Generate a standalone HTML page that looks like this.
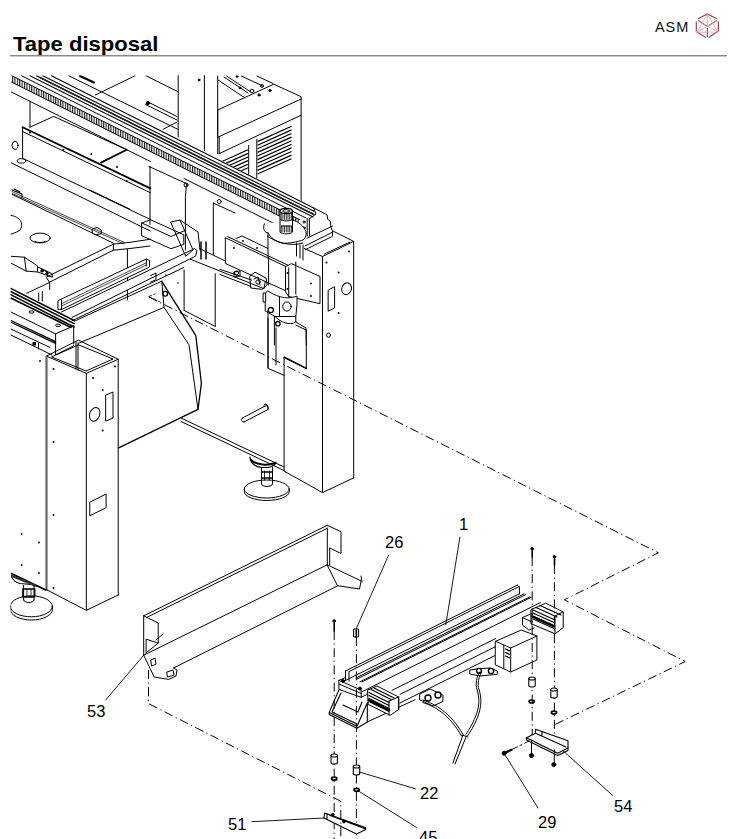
<!DOCTYPE html>
<html><head><meta charset="utf-8">
<style>
html,body{margin:0;padding:0;background:#fff;}
body{width:745px;height:839px;overflow:hidden;position:relative;font-family:"Liberation Sans",sans-serif;}
#title{position:absolute;left:13px;top:31.5px;font-size:20.5px;transform-origin:0 0;transform:scaleX(1.075);font-weight:bold;color:#000;white-space:nowrap;}
#asm{position:absolute;left:655px;top:18.5px;font-size:14.5px;color:#111;letter-spacing:0.9px;}
#rule{position:absolute;left:10px;top:55px;width:717px;height:1px;background:#8a8a8a;border-bottom:1px solid #c8c8c8;}
svg{position:absolute;left:0;top:0;}
.lb{position:absolute;font-size:16.5px;color:#000;line-height:1;}
</style></head><body>
<div id="title">Tape disposal</div>
<div id="asm">ASM</div>
<div id="rule"></div>
<svg width="745" height="839" viewBox="0 0 745 839">
<defs>
<pattern id="teeth" width="2.4" height="10" patternUnits="userSpaceOnUse"><rect x="0" y="0" width="1.1" height="10" fill="#1a1a1a"/></pattern>
<pattern id="vent" width="10" height="3" patternUnits="userSpaceOnUse" patternTransform="skewY(-25)"><rect x="0" y="0" width="10" height="1.3" fill="#000"/></pattern>
<clipPath id="dc"><rect x="10.6" y="75.2" width="735" height="764"/></clipPath>
</defs>
<g fill="none" stroke-linecap="butt">
<g stroke="#9c4548" stroke-width="1.2">
<path d="M698,18.8 L707.4,13.9 L716.8,18.8 M698,20.5 L706.9,26 M716.8,20.5 L708,26 M696.3,21.6 L696.3,31.5 M718.4,21.6 L718.4,31.5 M696.8,32 L706,37.6 M708.8,37.6 L717.7,31.5 M707.4,28 L707.4,37"/>
</g>
<g stroke="#e0a0a3" stroke-width="0.8">
<path d="M707.4,14 L707.4,26 M707.4,14 L697,32 M707.4,14 L717.5,31.5 M697,32.2 L717.5,32.2 M698,21 L717.5,31.5 M716.8,21 L697,32"/>
</g>
</g>
<g fill="none" stroke="#000" stroke-width="1" stroke-linecap="round" stroke-linejoin="round" clip-path="url(#dc)">
<!-- ========== UPPER BACK (table / frame behind rail) ========== -->
<path d="M68.6,75.7 L178,129.4 M146,75.7 L178,91.8 M95.4,95 L135.2,75.7 M163,129.4 L177,122"/>
<path d="M80,76 L94,82.5" stroke-width="2"/>
<path d="M146,104.7 L177,120 M148,102 L177,116.5 M146,104.7 A2,2 0 0 1 148,102"/>
<circle cx="148" cy="103" r="1.6" fill="#000"/>
<!-- posts -->
<path d="M178.2,75 L178.2,137 M204.4,75 L204.4,150.6 M217.7,76 L217.7,153.6"/>
<circle cx="199" cy="80" r="0.9" fill="#000"/>
<!-- cabinet -->
<path d="M217.7,110 L273.8,84.2 L301.1,96.7 L301.1,205 M217.7,137.3 L301.1,99 M219.2,153.6 L301.1,115.2 M217.7,110 L217.7,137.3 M219.2,137.3 L219.2,153.6"/>
<path d="M226.6,76 L250.2,91.6 M224,77 L248,93 M241.3,76 L262,85.7 M256.8,76 L273,83.5 M217.7,79.8 L244.3,97.5"/>
<circle cx="252" cy="91" r="1.8"/><circle cx="262" cy="86" r="1.4"/><circle cx="237" cy="76.5" r="0.9" fill="#000"/><circle cx="240" cy="88" r="0.9" fill="#000"/><circle cx="270" cy="90.5" r="1.1" fill="#000"/><circle cx="259" cy="95" r="1.1" fill="#000"/>
<path d="M257.5,141.6 L291.5,126.3 M257.5,145.2 L291.5,129.9 M257.5,148.8 L291.5,133.5 M257.5,152.4 L291.5,137.1 M257.5,156.0 L291.5,140.7 M257.5,159.6 L291.5,144.3 M257.5,163.2 L291.5,147.9 M257.5,166.8 L291.5,151.5 M257.5,170.4 L291.5,155.1 M257.5,174.0 L291.5,158.7" stroke-width="1.25" stroke-linecap="butt"/>
<path d="M222,161.5 L248,149.8 M222,165.1 L248,153.4 M222,168.7 L248,157.0 M222,172.3 L248,160.6 M222,175.9 L248,164.2 M222,179.5 L248,167.8" stroke-width="1.25" stroke-linecap="butt"/>
<path d="M248.7,145.5 L248.7,175 M256.8,139.6 L256.8,178"/>
<!-- ========== GANTRY RAIL ========== -->
<polygon points="51.4,75.7 314,207 316,214 313.2,214 300,222.3 290,231.5 11.8,92 11.8,75.7" fill="#fff" stroke="none"/>
<polygon points="11.8,75.7 300,219.8 300,226.3 11.8,82.2" fill="url(#teeth)" stroke="none"/>
<path d="M11.8,75.7 L300,219.8 M11.8,82.2 L300,226.3"/>
<path d="M51.4,75.7 L313.7,207.9 M42.8,75.7 L314,211.3 M36.4,75.7 L314,214.5 M29.9,75.7 L313.2,217" stroke-width="1.1"/>
<path d="M40,77.5 L313,214" stroke="#222" stroke-width="1.7"/>
<path d="M21.4,75.7 L306,218"/>
<path d="M11.3,92 L150.3,161.5 M184,178.5 L300,236.5"/>
<!-- rail end block -->
<path d="M313.7,207.9 L327.1,214.9 L327.6,219.2 L330.3,221.3 L330.9,227.2 L332.5,231 L332.5,236.3 L305.1,249.8 M307.2,218.6 L307.2,236 M309.4,219 L309.4,236 M307.2,238 L332.5,226.1 M313.7,207.9 L316,214 L309,219"/>
<g fill="none"><circle cx="304" cy="222" r="1.1"/><circle cx="304" cy="228" r="1.1"/></g>
<!-- knob + motor flange -->
<path d="M264.3,224 C262,230 266,233 267.5,232.6 C272,240 280,243.3 284.7,243.3 C292,243 300,241 303,240 C307,237 307,232 304,228 C300,222 292,219 290,220" fill="#fff"/>
<path d="M280,211 L280,232 C282,234.5 290.5,234.5 292.5,232 L292.5,211" fill="#fff"/>
<path d="M281.2,212 L281.2,219.5 M281.2,226 L281.2,232 M282.9,212 L282.9,219.5 M282.9,226 L282.9,232 M284.6,212 L284.6,219.5 M284.6,226 L284.6,232 M286.3,212 L286.3,219.5 M286.3,226 L286.3,232 M288.0,212 L288.0,219.5 M288.0,226 L288.0,232 M289.7,212 L289.7,219.5 M289.7,226 L289.7,232 M291.4,212 L291.4,219.5 M291.4,226 L291.4,232" stroke-width="0.9" stroke="#222"/>
<path d="M280,219.5 C282,221.5 290.5,221.5 292.5,219.5 M281.5,226 L291,226"/>
<ellipse cx="286.2" cy="211" rx="6.2" ry="2.6" fill="#fff" stroke-width="1.2"/>
<ellipse cx="286.2" cy="211" rx="3.5" ry="1.3"/>
<path d="M268,232.6 L268,257.3 M296.5,243 L296.5,256 M300,245 L300,258 M303,245 L303,260"/>
<path d="M267.5,236 C275,242 290,247 303,243"/>
<!-- ========== BOX UNDER BEAM (left) ========== -->
<path d="M22.6,127.2 L150.3,188.4" stroke-width="1.8"/>
<path d="M22.6,131.5 L150.3,192.7 M22.6,127.2 L22.6,158.3 L150.3,219.5 M11.5,163 L150.3,231"/>
<path d="M30,101 L30,127.2 M30,127.2 L53.7,116.4 L126.7,149.7"/>
<path d="M101,162.6 L126.7,149.7" stroke-width="1.8"/>
<ellipse cx="21.5" cy="160.9" rx="4.3" ry="2.2"/>
<ellipse cx="15" cy="145.4" rx="3" ry="4"/>
<g fill="#000" stroke="none"><circle cx="30" cy="132.5" r="1"/><circle cx="63.4" cy="149.7" r="1"/><circle cx="91.3" cy="154" r="1"/><circle cx="117" cy="167" r="1"/><circle cx="126.7" cy="181" r="1"/></g>
<!-- column below beam -->
<path d="M150,166.4 L150,224.4 M148.9,166.4 L186.5,183.6 L185.4,196.5 L185.4,250 M184.1,270 L184.1,310.4 M213.3,203 L213.3,254.4 M215.2,273.7 L215.2,326.4 M184.1,310.4 L215.2,326.4 M213.3,203 L235,213"/>
<circle cx="219.2" cy="201.5" r="2"/><circle cx="186" cy="185" r="2"/>
<!-- ========== TABLE ========== -->
<path d="M12.2,191.7 L123.9,242.3 M12.2,193.5 L123.9,244" stroke-width="0.9" stroke="#333"/>
<path d="M12.2,194.4 L113.4,243.2 M89.9,190 L130,209.2"/>
<path d="M92.5,229 L97,227.5 L101.2,230 L101.2,233.6 L96,235 L92.5,233 Z"/>
<path d="M113.4,244.1 L46.2,277.2 L49.7,282.5 L49.7,289.5 M113.4,250.2 L48.9,282.5 M113.4,244.1 L113.4,250.2 M113.4,244.1 L130,242.3 L150,239.3 M113.4,250.2 L130,248.5 L150,246"/>
<path d="M4,215 C18,214 25,222 20,230 C16,233 10,235 4,235"/>
<ellipse cx="40.1" cy="238" rx="10.1" ry="4.9"/>
<path d="M35,241.5 C37,243 43,243 45,241.5"/>
<path d="M11.3,256.3 L24.4,257.2 L37.5,265.9 L37.5,272 L26.2,271.1 L11.3,263.3 M24.4,257.2 L26.2,271.1"/>
<path d="M37.5,266.8 L52.3,273.8 L52.3,277.2 L37.5,272 M41,269 L48,272.5" />
<circle cx="42" cy="271" r="1.2" fill="#000"/><circle cx="47" cy="273.5" r="1.2" fill="#000"/>
<path d="M12,190 L22,194 L22,198 M14,189 L20,192" stroke-width="1.1"/>
<path d="M127.4,249.3 L127.4,300"/>
<!-- left mechanism block -->
<path d="M141.9,223 L150.5,219.7 L183.8,234.8 L183.8,244.4 L170.9,248.7 L141.9,235.8 Z M141.9,223 L170.9,236.5 L183.8,231"/>
<!-- arm -->
<path d="M199.7,248.5 L265.4,280.7 L264,288.7 L190.3,259.2" fill="#fff"/>
<circle cx="236.5" cy="273" r="2" />
<!-- long bars -->
<path d="M61.5,312 L194.6,248.6 L197,250.5 L195.7,256.1 L72.2,317.4 M72.2,320.6 L183.8,267.5" fill="#fff"/>
<path d="M201,242 L201,259 M206,242 L206,259" stroke-width="1.5"/>
<path d="M171,222 L180,220 L193,250 L186,256 Z M180,220 L198,232 L200,250"/>
<path d="M150.6,275.5 L156,273 L156,279.8 L150.6,282"/>
<!-- rod -->
<path d="M58.3,300.5 L146.3,259 L149.5,260.5 L149.5,267 L61.5,309.5 L58.3,309.5 Z M61.5,299.2 L61.5,309.5 M146.3,259 L146.3,266" fill="#fff"/>
<path d="M62,303.5 L146.3,262.8 M62,305.8 L146.3,265" stroke-width="0.9" stroke="#333"/>
<!-- lower left rail -->
<path d="M10.7,288.3 L74.1,320.5 M10.7,291.5 L74.1,323.7 M10.7,294.7 L74.1,327 M10.7,298 L71,327.5" stroke-width="1.5"/>
<path d="M10.9,312 L55.6,333.8 L73.7,325.9 M73.7,326 L73.7,344 M55.6,333.8 L55.6,354.9 L73.7,345.8 M10.9,329 L50,347.5 M10.9,335 L52,355 M38.5,343 L38.5,349"/>
<path d="M10.9,320.5 L55.6,341.6 M10.9,322.3 L55.6,343.4" stroke-width="1.2"/>
<ellipse cx="31.4" cy="312" rx="2.5" ry="1.2"/><ellipse cx="58" cy="325.3" rx="2.5" ry="1.2"/>
<path d="M26.6,293.3 L49.5,282.5 M38.7,293 L38.7,301 M42.3,291.5 L42.3,301"/>

<rect x="32.5" y="342" width="3.5" height="3.5" fill="#000" stroke="none"/>
<!-- ========== LEFT COLUMN ========== -->
<path d="M46.8,356.2 L86.3,373.4 L118.2,359.2 L78.7,340.3 Z M52,357 L86,371 L113,359 L79,345 Z"/>
<path d="M46.5,356.5 L46.5,590" stroke-width="2.2" stroke="#666"/>
<path d="M86.3,373.4 L86.3,610.3 M118.2,359.2 L118.2,595 M46.8,589.8 L86.3,610.3 L118.2,595"/>
<path d="M76,342 L76,369 M78,343 L78,370"/>
<polygon points="106,395 113,392 113,418 106,421"/>
<ellipse cx="94.7" cy="414.4" rx="5" ry="7" transform="rotate(20 94.7 414.4)"/>
<polygon points="90.1,502 106.1,494 106.1,507.7 90.1,515.6"/>
<g fill="#000" stroke="none">
<circle cx="53.5" cy="369" r="1"/><circle cx="53.5" cy="442" r="1"/><circle cx="53.5" cy="515" r="1"/><circle cx="53.5" cy="588" r="1"/>
<circle cx="93" cy="378" r="1"/><circle cx="102.7" cy="390" r="1"/><circle cx="102.7" cy="430.5" r="1"/><circle cx="115" cy="366.5" r="1"/>
<circle cx="40" cy="361" r="0.9"/><circle cx="21.7" cy="534" r="0.9"/><circle cx="39" cy="542.5" r="0.9"/><circle cx="21.7" cy="565" r="0.9"/><circle cx="39" cy="573" r="0.9"/>
</g>
<!-- left foot -->
<path d="M11.3,573.5 L45.4,589.7" stroke-width="1.8"/>
<path d="M11.3,575.5 C12,579 14,582 20,583.5 L31.4,584.5 L40,587" stroke-width="1.1"/>
<path d="M12,576 L35,585.5" stroke-width="2.2" stroke="#333"/>
<ellipse cx="31.4" cy="606.3" rx="21" ry="10.5" fill="#fff"/>
<path d="M10.4,606.3 L10.4,609.5 A21,10.5 0 0 0 52.4,609.5 L52.4,606.3"/>
<path d="M23.6,585.4 L23.6,600 M34,585.4 L34,600 M23.6,600 A5.2,2.5 0 0 0 34,600" fill="#fff"/>
<path d="M22.8,589 L34.8,589 M22.8,597 L34.8,597 M22.8,589 L22.8,597 M34.8,589 L34.8,597" stroke-width="1.3"/>
<path d="M27,589 L27,597 M31,589 L31,597" stroke-width="0.8"/>
<!-- ========== BIG CHUTE PANEL (machine) ========== -->
<path d="M161.8,281.3 L195.8,335.7 L201.4,383.3 L198,409.4 L118.7,447.9" stroke-width="1.3"/>
<path d="M161.8,281.3 L164,307.4 L189,344.8 L198,409.4 M164,307.4 L79,343.1 M161.9,281.1 L74.8,321"/>
<path d="M149,296.5 L155,293.7 M149,296.5 L160,302" stroke-dasharray="3,2" stroke-width="0.8"/>
<circle cx="165.2" cy="293.8" r="2.4" stroke-width="1.3"/>
<g fill="#000" stroke="none"><circle cx="166" cy="275" r="0.8"/><circle cx="178" cy="283" r="0.8"/></g>
<!-- frame bottom edge -->
<path d="M181,418 L284,467 M181,421.5 L284,470.5"/>

<!-- pin -->
<path d="M242.5,418 L265,406 M244,422 L267,410 M242.5,418 A2.2,2.2 0 0 0 244,422 M265,406 A2.2,2.2 0 0 1 267,410 M264,405 L266,404 L268,406 L268,410"/>
<!-- foot -->
<path d="M250,457 C250,463 256,467.5 262,467.5 L268,467.5 C273,467 276,464 276,462" stroke-width="1.2"/>
<path d="M251,460 C256,465 268,466 275,463" stroke-width="2"/>
<ellipse cx="266.8" cy="489" rx="22.5" ry="9" fill="#fff"/>
<path d="M244.3,489 L244.3,491.5 A22.5,9 0 0 0 289.3,491.5 L289.3,489"/>
<path d="M261.5,467.5 L261.5,484 M272.5,467.5 L272.5,484 M261.5,484 A5.5,2.5 0 0 0 272.5,484" fill="#fff"/>
<path d="M261.5,472 L272.5,472 M261.5,478 L272.5,478" stroke-width="1.4"/>
<path d="M264.5,471 L264.5,480 M269.5,471 L269.5,480" stroke-width="0.8"/>
<!-- ========== RIGHT COLUMN ========== -->
<path d="M304.4,248.5 L322.5,256.5 L353.7,241.4 L333.5,231.3 M322.5,256.5 L322.5,492.6 M353.7,241.4 L353.7,477.9 M284.1,357.3 L284.1,471.1 L322.5,492.6 L353.7,477.9"/>
<path d="M324.5,254 L350,242 M305,246 L333,232"/>
<polygon points="328.5,290 334.6,286.7 334.6,308 328.5,311"/>
<ellipse cx="346.6" cy="288.7" rx="4.8" ry="6" transform="rotate(15 346.6 288.7)"/>
<circle cx="328.5" cy="335.2" r="2"/>
<g fill="#000" stroke="none"><circle cx="326.5" cy="262.5" r="1"/><circle cx="349" cy="251.5" r="1"/><circle cx="338.6" cy="272.6" r="1"/><circle cx="338.6" cy="313" r="1"/></g>
<!-- motor bracket back plate -->
<path d="M268,318 L268,368.4 L284.2,375.4 M276,328 L276,365 M284.2,357.3 L306.3,368.4 L306.3,330 M295.8,325 L306,330"/>
<path d="M284.2,357.3 L306.3,368.4" stroke-width="1.6"/>
<!-- bracket plate 1 -->
<path d="M225.7,237.9 L285.8,266.5 L285.8,290.8 L225.7,263.6 Z M227.7,236.6 L287.5,265" fill="#fff"/>
<path d="M236,238.5 L242,236 L268,248.5" />
<g fill="#000" stroke="none"><circle cx="234" cy="248" r="0.9"/><circle cx="257" cy="248" r="0.9"/><circle cx="243" cy="241" r="0.9"/></g>
<path d="M234.3,272 L240,270.8 L240,275.8 L234.3,277 Z"/>
<!-- clamp -->
<path d="M250,276 L255,272.2 L266,278 L267.2,285 L262,289.4 L251,288 Z M254,279 L258,277 L260,285 M220,269.3 L251.5,280 M220,274.5 L251,286.5"/>
<circle cx="258" cy="282" r="2.2"/>
<!-- plate 2 -->
<path d="M285.8,266.5 L291.5,263.6 L320,276.5 L320,303.7 L288.7,296.5 L285.8,292.2 Z M288.7,268 L288.7,296.5" fill="#fff"/>
<g fill="#000" stroke="none"><circle cx="311" cy="283.5" r="0.9"/><circle cx="311" cy="296" r="0.9"/><circle cx="287.5" cy="273" r="0.9"/><circle cx="287.5" cy="289" r="0.9"/></g>
<!-- motor lower block -->
<path d="M268.6,257 L268.6,285 M295.8,262 L295.8,294"/>
<path d="M265.2,293.7 L265.2,311 L275,316.5 L295.8,316.5 L297,305 L297,296 C290,299 280,299 268,291 Z" fill="#fff"/>
<path d="M279.5,297 L279.5,316"/>
<ellipse cx="287" cy="306.5" rx="4.2" ry="4.6" fill="#fff"/>
<rect x="263.5" y="293" width="2.2" height="9" fill="#fff"/>
<circle cx="270.8" cy="310.1" r="2.6" fill="#fff" stroke-width="1.3"/>
<path d="M274.4,316.6 L274.4,345 M268,310.8 L268,368 M275,316.5 C280,322 290,326 295.8,322 L295.8,316.5 M295.8,322 L306,328 L306.3,345"/>
<circle cx="277.9" cy="323.7" r="2.2" fill="#fff" stroke-width="1.3"/>
<!-- dash-dot -->
<path d="M149,297 L658.4,552.8 L564.4,599.8 L685.2,661.5 L554,725" stroke-dasharray="9,3.5,1.2,3.5" stroke-width="1" stroke-linecap="butt"/>
<!-- ========== CHUTE 53 ========== -->
<path d="M143.7,615.8 L327.3,525.3 M146.5,617.5 L327.3,528.3" />
<path d="M143.7,615.8 L143.7,655.2 M143.7,615.8 L158.2,623 L158.2,643.2 L146.1,639.1 L146.1,652.8"/>
<path d="M327.3,525.3 L341,531.7 L341,553.5 L329.7,547.9 L329.7,564.8 M327.3,528 L327.3,564.8"/>
<path d="M143.7,655.2 L327.3,564.8 M173.5,668 L337.8,585.7"/>
<path d="M327.3,564.8 L361.1,580.9 L359.5,589 L337.8,585.7 Z M361,576 L362,582"/>
<path d="M143.7,655.2 L154.2,677 L168.7,679.4 L176,676 L177,670 L173.5,668 M146.1,652.8 L158.2,643.2 M156,640 L163,634"/>
<path d="M151,660 L155,658 L156,664 L152,666 Z M167,672 L173,670 L174,675 L168,677 Z"/>
<!-- ========== CONVEYOR 1 ========== -->
<polygon points="345.5,670.7 517.5,585.6 545,600 545,640 495,665 367,722 345,712" fill="#fff" stroke="none"/>
<path d="M345.5,671.0 L517.5,585.0 M349,671.6 L519.4,586.4 M356,677.9 L524.1,593.8 M357,679.0 L525.7,594.6 M360,681.8 L530.1,596.8 M362,681.9 L531.2,597.3 M362,691.7 L540.3,602.6 M392,690.4 L495.6,638.6 M400,694.4 L495.6,646.6 M400,703.0 L494.4,655.8"/>
<path d="M345.5,670.7 L345.5,680.4 M349,672 L349,681 M517.5,585.6 L519.4,587 L519.4,593.8 M345.5,680.4 L519.4,593.8"/>
<path d="M338.9,680.4 L345.5,677.5 M338.9,680.4 L361.2,690 L361.2,697.3 M338.9,680.4 L338.9,689.4 L361.2,697.3 M338.9,684 L361.2,693.5"/>
<circle cx="343" cy="681" r="1.5" fill="#000"/><circle cx="360" cy="688.5" r="1.5" fill="#000"/>
<path d="M338.9,690 L329.2,712.4 L357,726.3 L367.3,702.7 M341,693 L332,712 L356,723.5 M329.2,712.4 L329.2,714.5 L357,728.3 L357,726.3 M357,728.3 L367.3,722 L367.3,702.7 M343,705 L358,712 L362,702" stroke-width="1.1"/>
<path d="M367.3,722 L415,699.7 M361.2,697.3 L367.9,694"/>
<path d="M367.9,690 L377,686 L398.7,697 L398.7,709.4 L390.2,715.4 L368.5,704.5 Z M389,701 L389,715" fill="#fff"/>
<path d="M369,692.5 L389,702.5 M369,695.5 L389,705.5 M369,698.5 L389,708.5 M369,701.5 L389,711.5 M371,689.5 L391,699.5 M374,688 L394,698" stroke-width="1.2"/>
<path d="M369,700 L389,710" stroke-width="2.4"/>
<path d="M389,701 L398.7,697 M398.7,697 L398.7,709.4" />
<path d="M531.3,609.4 L540.1,605.7 L545.7,603.2 L563.2,611.9 L563.2,627.6 L555.1,633.8 L531.3,623.8 Z M555,616 L555,633.8 M555,616 L563.2,611.9" fill="#fff"/>
<path d="M533,610 L554,619.5 M533,613 L554,622.5 M533,616 L554,625.5 M533,619 L554,628.5 M536,607.5 L557,617 M540,605.5 L561,615" stroke-width="1.2"/>
<path d="M533,617 L554,626.5" stroke-width="2.4"/>
<path d="M522.5,617.6 L531.9,613.4 L531.9,625 M522.5,617.6 L522.5,625 L528.8,630 L534,628 M522.5,617.6 L531,621.5" fill="none"/>
<path d="M495.6,641.3 L521.3,630 L536.9,636 L536.9,660 L510.7,672 L495.6,665 Z M495.6,641.3 L510.7,648 L536.9,636 M510.7,648 L510.7,672 M503.8,645 L503.8,668.5" fill="#fff"/>
<path d="M505.6,649 L509.4,650.8 M505.6,652.5 L509.4,654.3 M505.6,656 L509.4,657.8" stroke-width="1.3"/>
<path d="M420,694 L430,689 L442.9,695 L442.9,701.5 L433,706 L420,700 Z" fill="#fff"/>
<circle cx="428" cy="698" r="3" fill="#fff" stroke-width="1.4"/><circle cx="438" cy="695" r="3" fill="#fff" stroke-width="1.4"/>
<path d="M470.1,670 L480,668.6 L490,668 L497.3,671 L497.3,674.3 L480,676 L470.1,674 Z" fill="#fff"/>
<circle cx="479" cy="670.8" r="2.4" fill="#fff" stroke-width="1.4"/><circle cx="491" cy="671" r="2.6" fill="#fff" stroke-width="1.4"/>
<path d="M422.9,700 C435,704 450,712 463,734.4 M422.9,702.5 C435,706.5 449,714 461.5,736"/>
<path d="M479.5,672 C475,680 476,688 477.2,690 C480,700 481,712 465.8,734.4 M481.5,672 C477,680 478,688 479.2,690 C482,700 483,713 467.5,736"/>
<path d="M463,735 L452.9,763 M466.5,736 L455,764 M462,735 L468,737" />
<!-- bolts / spacers left -->
<path d="M334.2,621 L334.2,631 M356.3,630 L356.3,637" stroke-width="1.6"/>
<circle cx="334.2" cy="621" r="1.3" fill="#000"/>
<rect x="354" y="629" width="4.6" height="8" fill="none"/>
<path d="M334.2,631 L334.2,839 M356.4,637 L356.4,839" stroke-dasharray="9,3.5,1.2,3.5" stroke-width="1" stroke-linecap="butt"/>
<path d="M331.0,755.5 L331.0,762.5 A3.2,1.5 0 0 0 337.4,762.5 L337.4,755.5" fill="#fff" stroke-width="1.1"/><ellipse cx="334.2" cy="755.5" rx="3.2" ry="1.5" fill="#fff" stroke-width="1.1"/>
<path d="M353.3,766.5 L353.3,773.5 A3.2,1.5 0 0 0 359.7,773.5 L359.7,766.5" fill="#fff" stroke-width="1.1"/><ellipse cx="356.5" cy="766.5" rx="3.2" ry="1.5" fill="#fff" stroke-width="1.1"/>
<ellipse cx="334.2" cy="778.7" rx="2.6" ry="1.5" fill="none" stroke-width="1.7"/>
<ellipse cx="356.6" cy="789.8" rx="2.6" ry="1.5" fill="none" stroke-width="1.7"/>
<!-- bolts / spacers right -->
<path d="M532.2,548.8 L532.2,557 M554.5,556.8 L554.5,565" stroke-width="1.6"/>
<circle cx="532.2" cy="548.8" r="1.3" fill="#000"/><circle cx="554.5" cy="556.8" r="1.3" fill="#000"/>
<path d="M532.2,557 L532.2,735 M554.4,565 L554.4,745" stroke-dasharray="9,3.5,1.2,3.5" stroke-width="1" stroke-linecap="butt"/>
<path d="M528.8,678.5 L528.8,685.5 A3.2,1.5 0 0 0 535.2,685.5 L535.2,678.5" fill="#fff" stroke-width="1.1"/><ellipse cx="532" cy="678.5" rx="3.2" ry="1.5" fill="#fff" stroke-width="1.1"/>
<path d="M550.8,689.5 L550.8,696.5 A3.2,1.5 0 0 0 557.2,696.5 L557.2,689.5" fill="#fff" stroke-width="1.1"/><ellipse cx="554" cy="689.5" rx="3.2" ry="1.5" fill="#fff" stroke-width="1.1"/>
<ellipse cx="531.7" cy="701.5" rx="2.6" ry="1.5" fill="none" stroke-width="1.7"/>
<ellipse cx="554" cy="712.6" rx="2.6" ry="1.5" fill="none" stroke-width="1.7"/>
<!-- bracket 51 -->
<path d="M324.7,813 L365.3,827.4 L365.7,829.5 L356.5,834 L323.9,818 Z M329.5,815.2 L365,828.8 M327,813.5 L327,818.5" fill="#fff" stroke-width="1.1"/>
<circle cx="332.7" cy="814.5" r="1.2" fill="#000"/><circle cx="344" cy="821.5" r="1.4" fill="#000"/>
<path d="M148.5,670 L148.5,703.6 L340.8,801.3 L340.8,839" stroke-dasharray="9,3.5,1.2,3.5" stroke-width="1" stroke-linecap="butt"/>
<!-- bracket 54 -->
<path d="M526.4,737.8 L557.7,753.2 L568,748.1 L568,740.7 L535.5,729.3 L535.5,733.3 L529,736.5 Z" fill="#fff" stroke-width="1.1"/>
<path d="M526.4,737.8 L526.4,740 L557.7,755.5 L568,750.5 L568,748.1 M535.5,733.3 L566,747 M542,732 L542,735.5" stroke-width="1.1"/>
<path d="M531.5,740 L531.5,753.8 M554.3,750 L554.3,763" stroke-width="1"/>
<circle cx="531.5" cy="755.5" r="2" fill="#000"/><circle cx="553.8" cy="764.6" r="2" fill="#000"/>
<!-- screw 29 -->
<circle cx="504.1" cy="753.2" r="2" fill="#000"/>
<path d="M504.1,753.2 L511.5,749.8" stroke-width="2.2"/>
<path d="M512,749.5 L529,741" stroke-dasharray="6,3,2,3" stroke-width="0.9"/>
<!-- leaders -->
<path d="M459.9,537.2 L445.8,624.8 M388.5,555.3 L356.2,628.8 M415.4,788.8 L359.3,772 M416.4,827.4 L357.7,790.5 M538,808 L505.4,755.4 M612.8,795.6 L562.5,750.3 M252,821.7 L324.1,818 M105.7,700 L144.3,654.5" stroke-width="0.9"/>

</g>
</svg>
<div class="lb" style="left:459px;top:516px">1</div>
<div class="lb" style="left:385px;top:534px">26</div>
<div class="lb" style="left:420px;top:785px">22</div>
<div class="lb" style="left:419px;top:829px">45</div>
<div class="lb" style="left:538px;top:814px">29</div>
<div class="lb" style="left:614px;top:798px">54</div>
<div class="lb" style="left:228px;top:816px">51</div>
<div class="lb" style="left:87px;top:703px">53</div>

</body></html>
